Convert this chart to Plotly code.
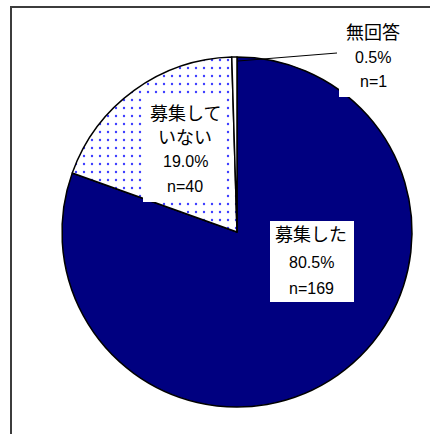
import plotly.graph_objects as go

# Survey responses: did the organisation recruit?
categories = ["募集した", "募集していない", "無回答"]
label_lines = [["募集した"], ["募集して", "いない"], ["無回答"]]
counts = [169, 40, 1]

W, H = 430, 434
total = sum(counts)
percents = [c / total * 100 for c in counts]


def px(x):
    return x / W


def py(y):
    return 1 - y / H


# pie centre (237, 232) with radius 175 px
cx, cy, r = 237, 232, 175

fig = go.Figure(
    go.Pie(
        labels=categories,
        values=counts,
        sort=False,
        direction="clockwise",
        rotation=0,
        textinfo="none",
        textposition="none",
        hoverinfo="label+value+percent",
        marker=dict(
            colors=["#000080", "#ffffff", "#ffffff"],
            line=dict(color="#000000", width=1.5),
            pattern=dict(
                shape=["", ".", ""],
                fgcolor="#3c3cff",
                bgcolor=["#000080", "#ffffff", "#ffffff"],
                size=8,
                solidity=0.07,
                fillmode="replace",
            ),
        ),
        domain=dict(x=[px(cx - r), px(cx + r)], y=[py(cy + r), py(cy - r)]),
        showlegend=False,
    )
)

shapes = []
annotations = []

# outer frame
shapes.append(dict(type="rect", xref="paper", yref="paper",
                   x0=px(11), x1=px(445), y0=py(450), y1=py(7),
                   line=dict(color="#3c3c3c", width=2), fillcolor="rgba(0,0,0,0)"))

# label boxes: (box x0, x1, y0, y1), text centre x, line centres y
boxes = [
    ((270, 354, 221, 302), 311, [233, 262, 288]),
    ((143, 224, 94, 202), 185, [112, 136, 161, 186]),
    ((339, 410, 12, 97), 373, [31, 57, 81]),
]

# leader line for the small slice
shapes.append(dict(type="line", xref="paper", yref="paper",
                   x0=px(238), y0=py(61), x1=px(337), y1=py(53),
                   line=dict(color="#000000", width=1)))

font_jp = "Noto Sans CJK JP, sans-serif"
font_num = "Liberation Sans, Arial, sans-serif"

for i, ((bx0, bx1, by0, by1), tx, ys) in enumerate(boxes):
    shapes.append(dict(type="rect", xref="paper", yref="paper",
                       x0=px(bx0), x1=px(bx1), y0=py(by1), y1=py(by0),
                       line=dict(width=0), fillcolor="#ffffff", layer="above"))
    texts = label_lines[i] + [f"{percents[i]:.1f}%", f"n={counts[i]}"]
    for j, (t, y) in enumerate(zip(texts, ys)):
        is_jp = j < len(label_lines[i])
        annotations.append(dict(
            x=px(tx), y=py(y), xref="paper", yref="paper",
            text=t, showarrow=False, xanchor="center", yanchor="middle",
            font=dict(family=font_jp if is_jp else font_num,
                      size=18 if is_jp else 16, color="#000000"),
        ))

fig.update_layout(
    width=W, height=H,
    margin=dict(l=0, r=0, t=0, b=0),
    paper_bgcolor="#ffffff",
    plot_bgcolor="#ffffff",
    shapes=shapes,
    annotations=annotations,
)

fig.write_html("out.html")
